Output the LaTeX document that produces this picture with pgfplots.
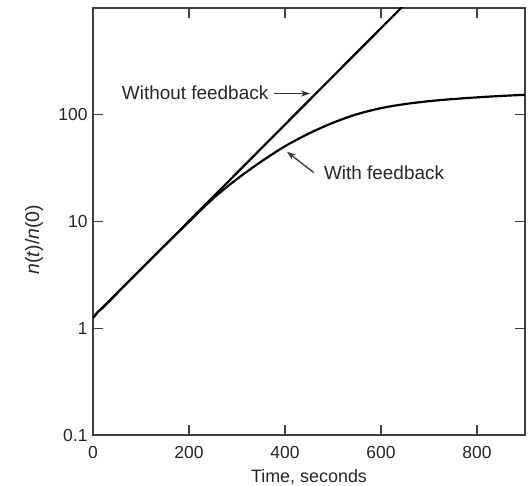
\documentclass[border=0pt]{standalone}
\usepackage{pgfplots}
\pgfplotsset{compat=1.18}
\usepackage{fontspec}
\setmainfont{Liberation Sans}
\usetikzlibrary{arrows.meta}
\begin{document}
\begin{tikzpicture}
\begin{axis}[
  scale only axis, width=432bp, height=427bp,
  ymode=log, xmin=0, xmax=900, ymin=0.1, ymax=1000,
  xtick={0,200,400,600,800}, xticklabels={0,200,400,600,800},
  ytick={0.1,1,10,100}, yticklabels={0.1,1,10,100},
  yminorticks=false,
  tick align=inside, xtick pos=both, ytick pos=both,
  major tick length=10bp,
  axis line style={line width=1.3bp, black!75},
  tick style={line width=1.3bp, black!75},
  ticklabel style={font=\fontsize{17.5}{20}\selectfont, text=black!85},
  xticklabel style={yshift=-8bp},
  yticklabel style={xshift=-2bp},
  xlabel={Time, seconds},
  ylabel={\textit{n}(\textit{t})/\textit{n}(0)},
  xlabel style={font=\fontsize{18}{21}\selectfont, text=black!85, at={(axis description cs:0.5,0)}, yshift=-42bp, anchor=center},
  ylabel style={font=\fontsize{19.5}{22}\selectfont, text=black!85, at={(axis description cs:-0.1366,0.457)}, anchor=center},
  clip=true,
]
% Without feedback
\addplot[black, line width=2.2bp] coordinates {
 (0,1.25) (10,1.42) (20,1.56) (50,2.13) (100,3.58) (150,6.0) (200,10.1) (300,28.6) (400,80.9) (500,229) (600,647) (642,1000) (660,1205)
};
% With feedback
\addplot[black, line width=2.2bp, smooth] coordinates {
 (0,1.25) (10,1.42) (20,1.56) (50,2.13) (100,3.58) (150,6.0) (200,9.95) (250,16.4) (300,25.0) (350,36.3) (400,50.7) (450,66.8) (500,84.1) (550,101.2) (600,115.3) (650,125.9) (700,134.0) (750,140.3) (800,145.5) (850,150.0) (900,153.8)
};
\end{axis}
\begin{axis}[
  scale only axis, width=432bp, height=427bp,
  ymode=log, xmin=0, xmax=900, ymin=0.1, ymax=1000,
  hide axis, clip=false,
]
\node[anchor=west, font=\fontsize{19}{22}\selectfont, text=black!85, inner sep=0pt] at (axis cs:60,160) {Without feedback};
\draw[line width=1.3bp, black!80, -{Stealth[length=9bp,width=6bp]}] (axis cs:378,158) -- (axis cs:452,158);
\node[anchor=west, font=\fontsize{19}{22}\selectfont, text=black!85, inner sep=0pt] at (axis cs:481,28.7) {With feedback};
\draw[line width=1.3bp, black!80, -{Stealth[length=9bp,width=6bp]}] (axis cs:460,28.7) -- (axis cs:404,45);
\end{axis}
\pgfresetboundingbox
\path ([shift={(-93bp,-51bp)}]current axis.south west) rectangle ([shift={(7bp,8bp)}]current axis.north east);
\end{tikzpicture}
\end{document}
